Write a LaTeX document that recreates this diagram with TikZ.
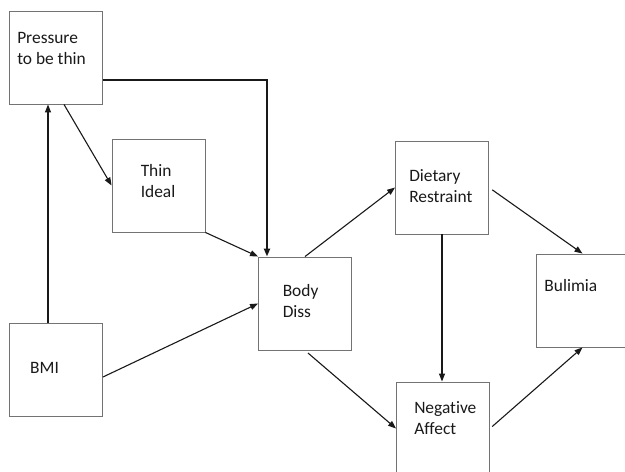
\documentclass[tikz,border=0pt]{standalone}
\usepackage{fontspec}
\setmainfont[Ligatures=NoCommon]{Carlito}
\usetikzlibrary{positioning, arrows.meta}

\tikzset{
  box/.style={draw=black!55, line width=0.9pt, minimum width=93pt,
    minimum height=93pt, inner sep=0pt},
  lbl/.style={inner sep=0pt, align=left, anchor=base west, text=black!90,
    font=\fontsize{17.4pt}{21pt}\selectfont},
  arr/.style={-{Triangle[length=8pt, width=6pt]}, line width=1.1pt, black!90},
}

\begin{document}
\begin{tikzpicture}[x=1pt, y=-1pt]
\useasboundingbox (0,0) rectangle (625,472);

\node[box] (press) at (56,57.5) {};
\node[box] (thin) at (158.5,185.5) {};
\node[box] (bmi) at (56,369.5) {};
\node[box] (body) at (305,303.5) {};
\node[box] (diet) at (442,187.5) {};
\node[box] (neg) at (443,428.5) {};
\node[box] (bul) at (582.5,300.5) {};

% base of a two-line label is its last line
\node[below right=53.5pt and 8pt of press.north west, lbl] (press-t)
    {Pressure\\to be thin};
\node[below right=59pt and 29pt of thin.north west, lbl] (thin-t)
    {Thin\\Ideal};
\node[below right=51pt and 21pt of bmi.north west, lbl] (bmi-t) {BMI};
\node[below right=60.5pt and 24.5pt of body.north west, lbl] (body-t)
    {Body\\Diss};
\node[below right=62pt and 14pt of diet.north west, lbl] (diet-t)
    {Dietary\\Restraint};
\node[below right=52.5pt and 18pt of neg.north west, lbl] (neg-t)
    {Negative\\Affect};
\node[below right=38pt and 8.7pt of bul.north west, lbl] (bul-t) {Bulimia};

\draw[arr] ([xshift=-8pt]bmi.north) -- ([xshift=-8pt]press.south);
\draw[arr] ([xshift=8pt]press.south) -- (thin.west);
\draw[arr, line width=2pt] ([yshift=-22.5pt]press.east)
    -| ([xshift=-38pt]body.north);
\draw[arr] (thin.south east) -- (body.north west);
\draw[arr] ([yshift=-7.5pt]bmi.east) -- (body.west);
\draw[arr] (body.north) -- (diet.west);
\draw[arr, shorten <=4pt] (body.south) -- (neg.west);
\draw[arr, shorten <=4pt] (diet.east) -- (bul.north);
\draw[arr] (diet.south) -- (diet.south |- neg.north);
\draw[arr, shorten <=3pt] (neg.east) -- (bul.south);
\end{tikzpicture}
\end{document}
